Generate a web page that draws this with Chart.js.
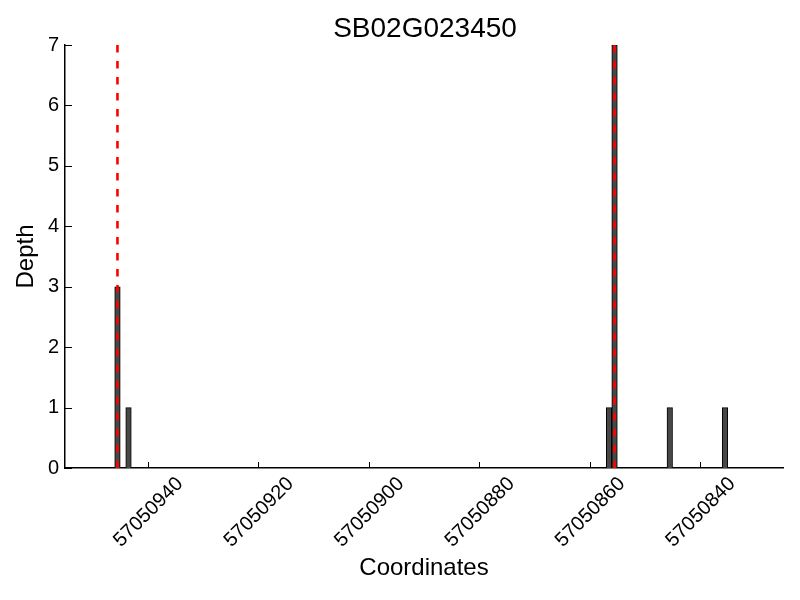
<!DOCTYPE html>
<html>
<head>
<meta charset="utf-8">
<script src="https://cdn.jsdelivr.net/npm/chart.js@4"></script>
<style>
    html, body { margin: 0; padding: 0; background: #fff; }
    #wrap { width: 800px; height: 600px; }
</style>
</head>
<body>
<div id="wrap"><canvas id="chart"></canvas></div>
<script>
// Depth histogram, one bar per coordinate bin [start, start + 1)
const binStarts = [57050945, 57050943, 57050856, 57050855, 57050845, 57050835];
const depths = [3, 1, 1, 7, 1, 1];

// dashed marker positions
const markers = [57050945.5, 57050855.5];

const xTicks = [57050940, 57050920, 57050900, 57050880, 57050860, 57050840];
const yTicks = [0, 1, 2, 3, 4, 5, 6, 7];

const chartTitle = 'SB02G023450';
const xTitle = 'Coordinates';
const yTitle = 'Depth';

const FONT = '"Liberation Sans", Arial, sans-serif';

// ticks drawn inward plus rotated labels and titles
const axisDecor = {
    id: 'axisDecor',
    afterDraw: function(chart) {
        const ctx = chart.ctx;
        const area = chart.chartArea;
        const xs = chart.scales.x;
        const ys = chart.scales.y;

        ctx.save();
        ctx.strokeStyle = '#000';
        ctx.lineWidth = 1;
        ctx.beginPath();
        xs.ticks.forEach(t => {
            const px = Math.round(xs.getPixelForValue(t.value)) + 0.5;
            ctx.moveTo(px, area.bottom);
            ctx.lineTo(px, area.bottom - 6);
        });
        ys.ticks.forEach(t => {
            const py = Math.round(ys.getPixelForValue(t.value)) + 0.5;
            ctx.moveTo(area.left, py);
            ctx.lineTo(area.left + 7, py);
        });
        ctx.stroke();

        // rotated x labels, centred on the tick
        ctx.fillStyle = '#000';
        ctx.font = '20px ' + FONT;
        ctx.textAlign = 'center';
        ctx.textBaseline = 'middle';
        xs.ticks.forEach(t => {
            const label = String(t.value);
            const w = ctx.measureText(label).width;
            const boxH = (w + 14.5) * Math.SQRT1_2;
            const px = xs.getPixelForValue(t.value);
            ctx.save();
            ctx.translate(px, area.bottom + 7 + boxH / 2);
            ctx.rotate(-Math.PI / 4);
            ctx.fillText(label, 0, 1);
            ctx.restore();
        });

        // titles
        const cx = (area.left + area.right) / 2;
        ctx.font = '28px ' + FONT;
        ctx.fillText(chartTitle, cx + 1, 29);

        ctx.font = '24px ' + FONT;
        ctx.fillText(xTitle, cx, 568);

        ctx.save();
        ctx.translate(26, (area.top + area.bottom) / 2);
        ctx.rotate(-Math.PI / 2);
        ctx.fillText(yTitle, 0, 0);
        ctx.restore();
        ctx.restore();
    }
};

// drawn top-down so the dash pattern starts at the top edge
const markerSets = markers.map(m => ({
    type: 'line',
    data: [{ x: m, y: 7 }, { x: m, y: 0 }],
    borderColor: '#ff0000',
    borderWidth: 2.6,
    borderDash: [7.5, 8.5],
    pointRadius: 0,
    fill: false,
    order: 0
}));

new Chart(document.getElementById('chart'), {
    type: 'bar',
    data: {
        datasets: [{
            type: 'bar',
            data: binStarts.map((s, i) => ({ x: s + 0.5, y: depths[i] })),
            backgroundColor: '#474747',
            borderColor: '#000000',
            borderWidth: 1,
            barPercentage: 1,
            categoryPercentage: 1,
            order: 1
        }].concat(markerSets)
    },
    options: {
        responsive: true,
        maintainAspectRatio: false,
        animation: false,
        layout: { padding: { top: 45, right: 17, left: 0, bottom: 0 } },
        plugins: {
            legend: { display: false },
            title: { display: false },
            tooltip: { enabled: false }
        },
        scales: {
            x: {
                type: 'linear',
                reverse: true,
                offset: false,
                min: 57050825,
                max: 57050955,
                grid: { display: false, offset: false, drawTicks: false },
                border: { color: '#000', width: 1.5 },
                ticks: { display: false },
                afterBuildTicks: s => { s.ticks = xTicks.map(v => ({ value: v })); },
                afterFit: s => { s.height = 132; }
            },
            y: {
                min: 0,
                max: 7,
                grid: { display: false, drawTicks: false },
                border: { color: '#000', width: 1.5 },
                ticks: {
                    color: '#000',
                    font: { family: FONT, size: 20 },
                    padding: 6
                },
                afterBuildTicks: s => { s.ticks = yTicks.map(v => ({ value: v })); },
                afterFit: s => { s.width = 65; }
            }
        }
    },
    plugins: [axisDecor]
});
</script>
</body>
</html>
